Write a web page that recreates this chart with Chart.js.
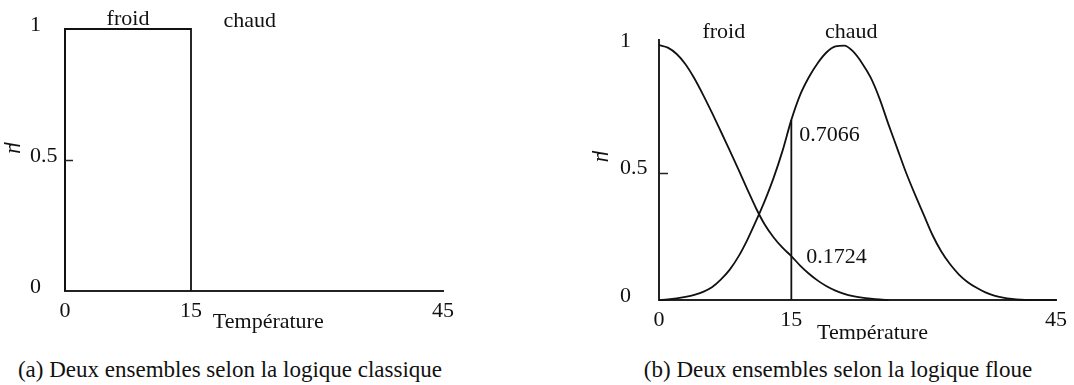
<!DOCTYPE html>
<html lang="fr">
<head>
<meta charset="utf-8">
<title>Ensembles classiques et flous</title>
<script src="https://cdn.jsdelivr.net/npm/chart.js@4"></script>
<style>
  body {
    margin: 0;
    background: #fff;
    width: 1074px;
    height: 385px;
    position: relative;
    overflow: hidden;
    font-family: "Liberation Serif", serif;
  }
  .box { position: absolute; top: 0; height: 340px; }
  .caption {
    position: absolute;
    top: 357px;
    font-size: 23px;
    color: #111;
    white-space: nowrap;
    transform: translateX(-50%);
  }
</style>
</head>
<body>
<div class="box" style="left:0;width:540px"><canvas id="classique"></canvas></div>
<div class="box" style="left:560px;width:514px"><canvas id="floue"></canvas></div>
<div class="caption" style="left:230px">(a) Deux ensembles selon la logique classique</div>
<div class="caption" style="left:838px">(b) Deux ensembles selon la logique floue</div>

<script>
// axes
const xTicks = [0, 15, 45];
const yTicks = [0, 0.5, 1];

// (a) ensemble "froid" classique : 1 entre 0 et 15, 0 ailleurs
const froidClassX = [0, 0, 15, 15];
const froidClassY = [0, 1, 1, 0];

// (b) fonctions d'appartenance floues, relevées degré par degré
const tempX = [0, 1, 2, 3, 4, 5, 6, 7, 8, 9, 10, 11, 12, 13, 14, 15, 16, 17, 18, 19, 20,
    21, 22, 23, 24, 25, 26, 27, 28, 29, 30, 31, 32, 33, 34, 35, 36, 37, 38, 39, 40,
    41, 42, 43, 44, 45];
const froidFloue = [1.0, 0.99, 0.965, 0.925, 0.87, 0.805, 0.735, 0.662, 0.588, 0.512,
    0.435, 0.36, 0.295, 0.245, 0.205, 0.1724, 0.135, 0.103, 0.076, 0.054, 0.037,
    0.024, 0.015, 0.009, 0.005, 0.002, 0];
const chaudFloue = [0, 0.002, 0.006, 0.012, 0.02, 0.032, 0.05, 0.08, 0.118, 0.17,
    0.235, 0.31, 0.39, 0.48, 0.585, 0.7066, 0.805, 0.875, 0.93, 0.972, 0.995,
    0.998, 0.975, 0.93, 0.872, 0.79, 0.69, 0.595, 0.5, 0.415, 0.335, 0.255, 0.19,
    0.14, 0.1, 0.07, 0.048, 0.03, 0.017, 0.009, 0.004, 0.001, 0, 0, 0, 0];

const tLue = 15;
const froidLu = froidFloue[tempX.indexOf(tLue)];
const chaudLu = chaudFloue[tempX.indexOf(tLue)];

const ink = "#111";
const serif = "'Liberation Serif', 'Times New Roman', serif";

function points(xs, ys) {
    return ys.map((y, i) => ({ x: xs[i], y: y }));
}

function line(data, smooth) {
    return {
        data: data,
        showLine: true,
        borderColor: ink,
        borderWidth: 1.8,
        pointRadius: 0,
        fill: false,
        clip: false,
        tension: smooth ? 0.4 : 0,
        cubicInterpolationMode: smooth ? "monotone" : "default",
    };
}

// textes placés sur le graphe (noms des ensembles, valeurs lues, axes)
const annotations = {
    id: "annotations",
    afterDatasetsDraw(chart, args, opts) {
        const { ctx } = chart;
        const x = chart.scales.x;
        const y = chart.scales.y;
        ctx.save();
        ctx.fillStyle = ink;
        ctx.strokeStyle = "#222";
        ctx.textBaseline = "middle";

        // petit trait de graduation à 0.5, vers l'intérieur
        const y05 = Math.round(y.getPixelForValue(0.5)) + 0.5;
        ctx.lineWidth = 1.5;
        ctx.beginPath();
        ctx.moveTo(x.getPixelForValue(0), y05);
        ctx.lineTo(x.getPixelForValue(0) + opts.tick, y05);
        ctx.stroke();

        ctx.font = "22px " + serif;
        for (const t of opts.texts) {
            ctx.textAlign = t.align || "center";
            ctx.fillText(t.text, x.getPixelForValue(t.x) + (t.dx || 0),
                y.getPixelForValue(t.y) + (t.dy || 0));
        }

        // symbole mu, tourné
        ctx.translate(x.getPixelForValue(0) + opts.mu.dx, y.getPixelForValue(0.5) + opts.mu.dy);
        ctx.rotate(Math.PI / 2);
        ctx.font = "italic 23px " + serif;
        ctx.textAlign = "center";
        ctx.fillText("\u03bc", 0, 0);
        ctx.restore();
    },
};

function makeOptions(o) {
    return {
        responsive: true,
        maintainAspectRatio: false,
        animation: false,
        layout: { padding: o.padding },
        plugins: {
            legend: { display: false },
            tooltip: { enabled: false },
            annotations: o.annotations,
        },
        scales: {
            x: {
                type: "linear",
                min: 0,
                max: 45,
                afterBuildTicks: (s) => { s.ticks = xTicks.map((v) => ({ value: v })); },
                afterFit: (s) => { s.height = o.xHeight; },
                grid: { display: false, drawTicks: false },
                border: { display: true, color: "#222", width: 2 },
                ticks: {
                    padding: 7,
                    maxRotation: 0,
                    autoSkip: false,
                    color: ink,
                    font: { family: serif, size: 22 },
                },
            },
            y: {
                min: 0,
                max: o.yMax,
                afterBuildTicks: (s) => { s.ticks = yTicks.map((v) => ({ value: v })); },
                afterFit: (s) => { s.width = o.yWidth; },
                grid: { display: false, drawTicks: false },
                border: { display: true, color: "#222", width: 2 },
                ticks: {
                    crossAlign: "far",
                    labelOffset: -4,
                    color: ink,
                    font: { family: serif, size: 22 },
                    callback: (v) => String(v),
                },
            },
        },
    };
}

new Chart("classique", {
    type: "scatter",
    data: {
        datasets: [line(points(froidClassX, froidClassY), false)],
    },
    options: makeOptions({
        padding: { left: 30, top: 29, right: 97, bottom: 0 },
        xHeight: 49,
        yWidth: 35,
        yMax: 1,
        annotations: {
            tick: 8,
            mu: { dx: -50, dy: -12 },
            texts: [
                { text: "froid", x: 7.5, y: 1, dy: -10 },
                { text: "chaud", x: 22, y: 1, dy: -8 },
                { text: "Température", x: 24.2, y: 0, dy: 31 },
            ],
        },
    }),
    plugins: [annotations],
});

new Chart("floue", {
    type: "scatter",
    data: {
        datasets: [
            line(points(tempX, froidFloue), true),
            line(points(tempX, chaudFloue), true),
            line(points([tLue, tLue], [0, chaudLu]), false),
        ],
    },
    options: makeOptions({
        padding: { left: 60, top: 40, right: 11, bottom: 0 },
        xHeight: 40,
        yWidth: 39,
        yMax: 1.02,
        annotations: {
            tick: 9,
            mu: { dx: -56, dy: -16 },
            texts: [
                { text: "froid", x: 7.35, y: 1, dy: -13 },
                { text: "chaud", x: 21.8, y: 1, dy: -13 },
                { text: String(chaudLu), x: tLue, y: chaudLu, dx: 8, dy: 15, align: "left" },
                { text: String(froidLu), x: tLue, y: froidLu, dx: 15, dy: 1, align: "left" },
                { text: "Température", x: 24.2, y: 0, dy: 33 },
            ],
        },
    }),
    plugins: [annotations],
});
</script>
</body>
</html>
